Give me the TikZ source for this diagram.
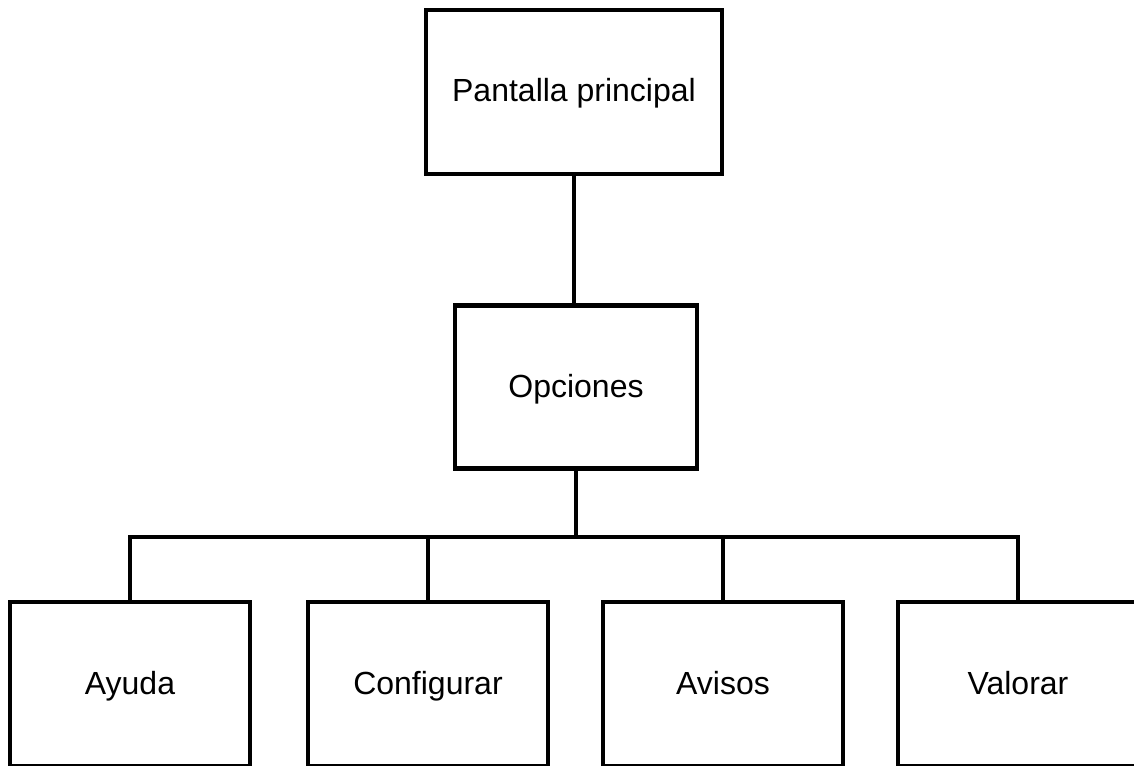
\documentclass[tikz,border=0pt]{standalone}
\usepackage{fontspec}
\setmainfont{Liberation Sans}
\begin{document}
\begin{tikzpicture}[x=1pt,y=-1pt,
  screen/.style={draw=black, line width=4.8pt, fill=white, rectangle,
    inner sep=0pt, line join=miter, text height=28pt, text depth=8pt,
    font=\fontsize{32}{38}\selectfont},
  leaf/.style={screen, minimum width=240pt, minimum height=164pt},
  link/.style={draw=black, line width=3.5pt}]
\useasboundingbox (0,0) rectangle (1134,765);
\clip (0,0) rectangle (1134,765);

% screens
\node[screen, minimum width=296pt, minimum height=164pt] (main) at (574,92) {Pantalla principal};
\node[screen, minimum width=242pt, minimum height=163pt] (opts) at (576,387) {Opciones};
\node[leaf] (ayuda) at (130,684) {Ayuda};
\node[leaf] (conf) at (428,684) {Configurar};
\node[leaf] (avisos) at (723,684) {Avisos};
\node[leaf] (valorar) at (1018,684) {Valorar};

% branching point under the options screen
\coordinate (bus) at (575,537);

% connectors
\draw[link] (main.south) -- (main.south |- opts.north);
\draw[link] (opts.south) -- (opts.south |- bus);
\draw[link] (ayuda.north) -- (ayuda.north |- bus) -- (valorar.north |- bus) -- (valorar.north);
\draw[link] (conf.north) -- (conf.north |- bus);
\draw[link] (avisos.north) -- (avisos.north |- bus);
\end{tikzpicture}
\end{document}
